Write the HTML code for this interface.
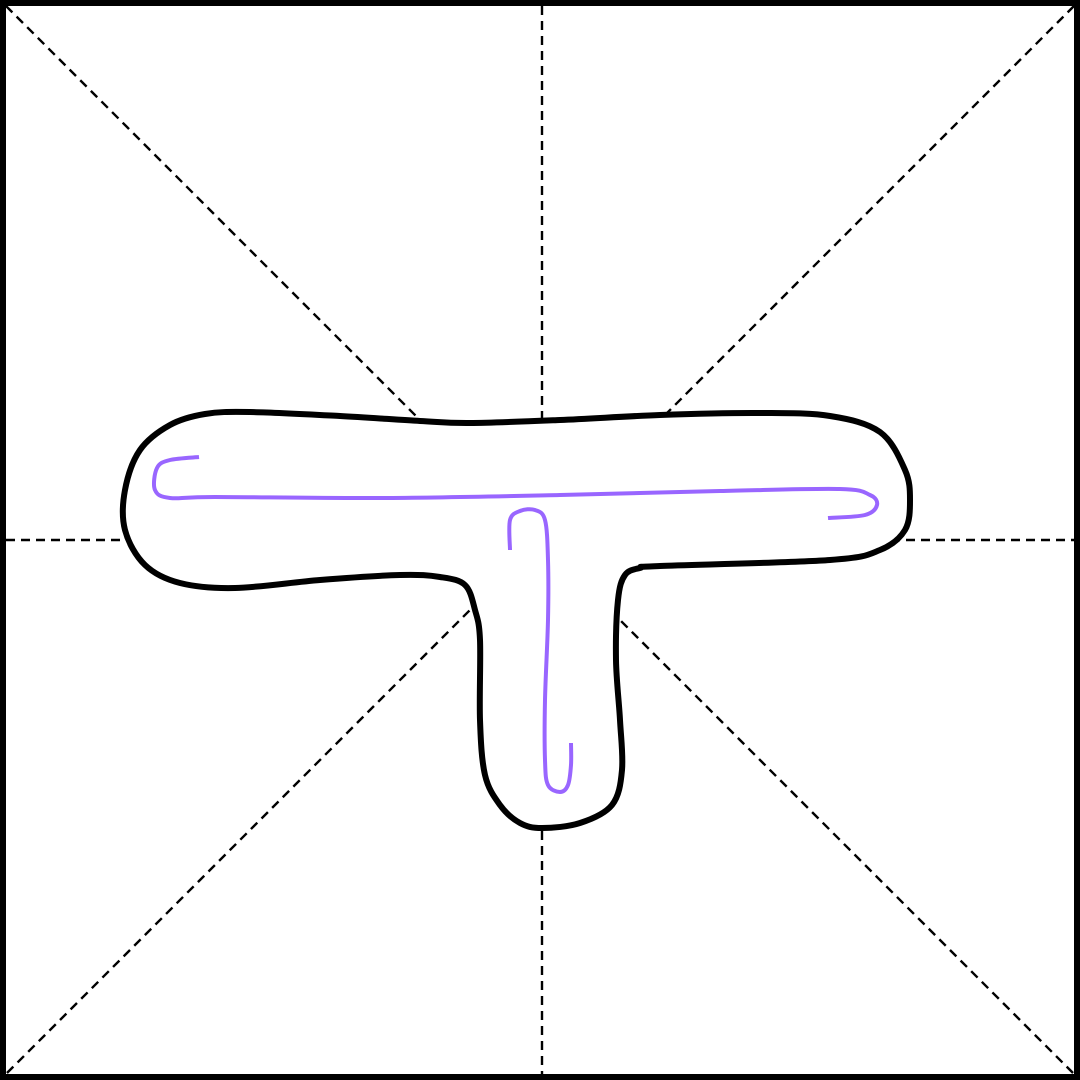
<!DOCTYPE html>
<html>
<head>
<meta charset="utf-8">
<style>
  html,body{margin:0;padding:0;background:#fff;}
  svg{display:block;}
</style>
</head>
<body>
<svg id="chart" width="1080" height="1080" viewBox="0 0 1080 1080" xmlns="http://www.w3.org/2000/svg">
  <rect x="0" y="0" width="1080" height="1080" fill="#fff"/>
  <g stroke="#000" stroke-width="2.4" stroke-dasharray="9,6" fill="none">
    <line x1="6" y1="6" x2="1074" y2="1074"/>
    <line x1="1074" y1="6" x2="6" y2="1074"/>
    <line x1="542" y1="6" x2="542" y2="1074"/>
    <line x1="6" y1="540" x2="1074" y2="540"/>
  </g>
  <rect x="3" y="3" width="1074" height="1074" fill="none" stroke="#000" stroke-width="6"/>
  <path id="outline" fill="#fff" stroke="#000" stroke-width="6" stroke-linejoin="round"/>
  <path id="stroke1" fill="none" stroke="#9966ff" stroke-width="4" stroke-linecap="butt" stroke-linejoin="round"/>
  <path id="stroke2" fill="none" stroke="#9966ff" stroke-width="4" stroke-linecap="butt" stroke-linejoin="round"/>
</svg>
<script>
const outlineX = [250,340,420,470,560,660,760,830,880,905,910,905,880,830,660,640,625,618,616,620,622,612,580,542,520,500,485,480,480,475,465,440,400,320,235,180,145,125,125,140,170,205];
const outlineY = [412,416,421,423,420,415,413,416,432,470,500,530,550,560,566,568,575,600,660,720,770,805,823,828,823,805,775,720,640,610,585,577,575,580,588,583,565,530,490,450,425,414];
const stroke1X = [199,170,157,155,170,215,380,560,720,840,870,877,865,828];
const stroke1Y = [457,460,468,490,498,497,498,495,491,489,495,505,515,518];
const stroke2X = [510,510,520,535,545,548,548,545,545,548,560,568,571,571];
const stroke2Y = [550,520,511,510,520,560,620,700,760,785,792,785,765,743];

function smoothPath(xs, ys, closed){
  const n = xs.length;
  const P = i => closed ? [xs[(i+n)%n], ys[(i+n)%n]] : [xs[Math.max(0,Math.min(n-1,i))], ys[Math.max(0,Math.min(n-1,i))]];
  let d = 'M' + xs[0] + ',' + ys[0];
  const segs = closed ? n : n-1;
  for(let i=0;i<segs;i++){
    const p0=P(i-1), p1=P(i), p2=P(i+1), p3=P(i+2);
    const c1=[p1[0]+(p2[0]-p0[0])/6, p1[1]+(p2[1]-p0[1])/6];
    const c2=[p2[0]-(p3[0]-p1[0])/6, p2[1]-(p3[1]-p1[1])/6];
    d += ' C'+c1[0].toFixed(1)+','+c1[1].toFixed(1)+' '+c2[0].toFixed(1)+','+c2[1].toFixed(1)+' '+p2[0]+','+p2[1];
  }
  if(closed) d += ' Z';
  return d;
}
document.getElementById('outline').setAttribute('d', smoothPath(outlineX, outlineY, true));
document.getElementById('stroke1').setAttribute('d', smoothPath(stroke1X, stroke1Y, false));
document.getElementById('stroke2').setAttribute('d', smoothPath(stroke2X, stroke2Y, false));
</script>
</body>
</html>
